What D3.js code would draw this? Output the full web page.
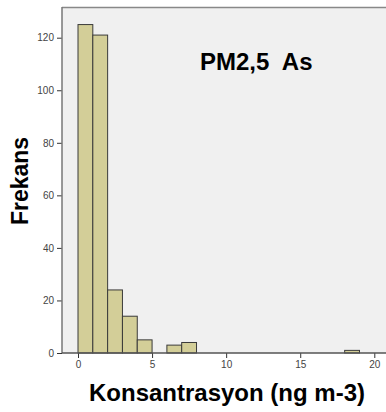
<!DOCTYPE html>
<html>
<head>
<meta charset="utf-8">
<script src="https://cdn.jsdelivr.net/npm/d3@7"></script>
<style>
  html, body { margin: 0; padding: 0; background: #fff; }
  svg { display: block; font-family: Arial, "Liberation Sans", sans-serif; }
</style>
</head>
<body>
<svg id="chart" width="386" height="412"></svg>
<script>
// Histogram bins of concentration (width 1 ng m-3) and their frequencies
const binStarts = [0, 1, 2, 3, 4, 6, 7, 18];
const binWidth = 1;
const frequencies = [125, 121, 24, 14, 5, 3, 4, 1];
const xTicks = [0, 5, 10, 15, 20];
const yTicks = [0, 20, 40, 60, 80, 100, 120];

const svg = d3.select("#chart");
const plotLeft = 62, plotRight = 386, plotTop = 7, plotBottom = 353;

const x = d3.scaleLinear().domain([0, 20]).range([78, 374.3]);
const y = d3.scaleLinear().domain([0, 120]).range([plotBottom, 37.7]);

// plot background
svg.append("rect")
  .attr("x", plotLeft).attr("y", plotTop)
  .attr("width", plotRight - plotLeft).attr("height", plotBottom - plotTop)
  .attr("fill", "#f0f0f0");
svg.append("line")
  .attr("x1", plotLeft).attr("x2", plotRight).attr("y1", plotTop + 0.5).attr("y2", plotTop + 0.5)
  .attr("stroke", "#888").attr("stroke-width", 1.5);

// bars
svg.append("g").selectAll("rect")
  .data(binStarts.map((s, i) => ({ s, f: frequencies[i] })))
  .join("rect")
  .attr("x", d => x(d.s))
  .attr("y", d => y(d.f))
  .attr("width", d => x(d.s + binWidth) - x(d.s))
  .attr("height", d => y(0) - y(d.f))
  .attr("fill", "#d3ce98")
  .attr("stroke", "#3a3a3a")
  .attr("stroke-width", 1);

// axes
const yAxis = svg.append("g")
  .attr("transform", `translate(${plotLeft},0)`)
  .call(d3.axisLeft(y).tickValues(yTicks).tickSize(5).tickSizeOuter(0));
const xAxis = svg.append("g")
  .attr("transform", `translate(0,${plotBottom})`)
  .call(d3.axisBottom(x).tickValues(xTicks).tickSize(5).tickSizeOuter(0));

[yAxis, xAxis].forEach(g => {
  g.select(".domain").remove();
  g.selectAll(".tick line").attr("stroke", "#333");
  g.selectAll(".tick text").attr("fill", "#444").style("font-size", "10px");
});
yAxis.selectAll(".tick text").attr("x", -8);
xAxis.selectAll(".tick text").attr("y", 8);

// axis lines
svg.append("line")
  .attr("x1", plotLeft).attr("x2", plotLeft).attr("y1", plotTop).attr("y2", plotBottom)
  .attr("stroke", "#777").attr("stroke-width", 1.5);
svg.append("line")
  .attr("x1", plotLeft).attr("x2", plotRight).attr("y1", plotBottom).attr("y2", plotBottom)
  .attr("stroke", "#555").attr("stroke-width", 1.5);

// titles
svg.append("text")
  .attr("x", 200).attr("y", 70)
  .attr("font-weight", "bold").attr("font-size", 24)
  .attr("xml:space", "preserve")
  .text("PM2,5  As");

svg.append("text")
  .attr("transform", "translate(28,181) rotate(-90)")
  .attr("text-anchor", "middle")
  .attr("font-weight", "bold").attr("font-size", 23)
  .text("Frekans");

svg.append("text")
  .attr("x", 227).attr("y", 401)
  .attr("text-anchor", "middle")
  .attr("font-weight", "bold").attr("font-size", 24)
  .text("Konsantrasyon (ng m-3)");
</script>
</body>
</html>
